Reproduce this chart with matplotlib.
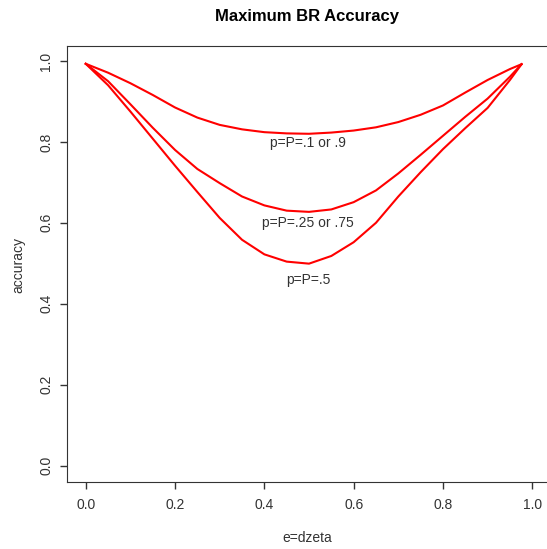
import matplotlib
matplotlib.use('Agg')
import matplotlib.pyplot as plt

# e = dzeta values along the x axis
e = [0.0, 0.05, 0.10, 0.15, 0.20, 0.25, 0.30, 0.35, 0.40, 0.45, 0.50,
     0.55, 0.60, 0.65, 0.70, 0.75, 0.80, 0.85, 0.90, 0.95, 0.976]

# maximum accuracy for each p=P setting
acc_p10 = [0.993, 0.971, 0.945, 0.916, 0.885, 0.860, 0.842, 0.831, 0.824, 0.821, 0.820,
           0.823, 0.828, 0.836, 0.849, 0.867, 0.890, 0.922, 0.953, 0.980, 0.992]
acc_p25 = [0.993, 0.950, 0.893, 0.835, 0.780, 0.733, 0.698, 0.665, 0.643, 0.630, 0.627,
           0.633, 0.651, 0.680, 0.722, 0.768, 0.815, 0.862, 0.907, 0.961, 0.992]
acc_p50 = [0.993, 0.940, 0.875, 0.808, 0.741, 0.676, 0.612, 0.558, 0.522, 0.504, 0.499,
           0.518, 0.552, 0.600, 0.665, 0.725, 0.782, 0.834, 0.884, 0.953, 0.992]

labels = ['p=P=.1 or .9', 'p=P=.25 or .75', 'p=P=.5']
label_y = [0.797, 0.599, 0.458]

plt.rcParams['font.family'] = ['Liberation Sans', 'DejaVu Sans']
ink = '#333333'

fig = plt.figure(figsize=(5.47, 5.49), dpi=100)
ax = fig.add_axes([67 / 547, 1 - 481.7 / 549, 1 - 67 / 547, (481.7 - 46) / 549])

for acc in (acc_p10, acc_p25, acc_p50):
    ax.plot(e, acc, color='red', linewidth=1.5, solid_joinstyle='round')

for txt, y in zip(labels, label_y):
    ax.text(0.498, y, txt, ha='center', va='center', fontsize=10, color=ink)

ax.set_xlim(-0.042, 1.033)
ax.set_ylim(-0.04, 1.037)
ax.set_xticks([0.0, 0.2, 0.4, 0.6, 0.8, 1.0])
ax.set_yticks([0.0, 0.2, 0.4, 0.6, 0.8, 1.0])
ax.set_xticklabels(['0.0', '0.2', '0.4', '0.6', '0.8', '1.0'])
ax.set_yticklabels(['0.0', '0.2', '0.4', '0.6', '0.8', '1.0'], rotation=90, va='center')
ax.tick_params(colors=ink, labelcolor=ink, labelsize=10, length=5, width=1)
ax.tick_params(axis='x', pad=7)
ax.tick_params(axis='y', pad=5)
for side in ('left', 'bottom', 'top'):
    ax.spines[side].set_color(ink)
ax.spines['right'].set_visible(False)

fig.text(307 / 547, 1 - 17 / 549, 'Maximum BR Accuracy', ha='center', va='center',
         fontsize=12, fontweight='bold', color='black')
fig.text(307 / 547, 1 - 538 / 549, 'e=dzeta', ha='center', va='center', fontsize=10, color=ink)
fig.text(18 / 547, 1 - 265 / 549, 'accuracy', ha='center', va='center', rotation=90,
         fontsize=10, color=ink)

fig.savefig('out.png', dpi=100)
